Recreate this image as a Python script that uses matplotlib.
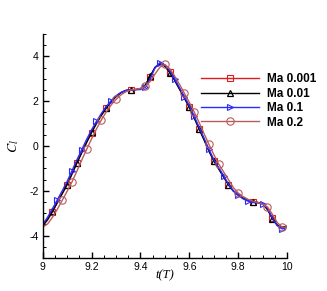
import matplotlib
matplotlib.use('Agg')
from matplotlib import pyplot as plt
from matplotlib.ticker import MultipleLocator

plt.rcParams['font.family'] = 'Liberation Sans'
plt.rcParams['mathtext.fontset'] = 'stix'

# lift coefficient over one period
t = [9.00, 9.02, 9.04, 9.06, 9.08, 9.10, 9.12, 9.14, 9.16, 9.18,
     9.20, 9.22, 9.24, 9.26, 9.28, 9.30, 9.32, 9.34, 9.36, 9.38,
     9.40, 9.42, 9.44, 9.46, 9.48, 9.50, 9.52, 9.54, 9.56, 9.58,
     9.60, 9.62, 9.64, 9.66, 9.68, 9.70, 9.72, 9.74, 9.76, 9.78,
     9.80, 9.82, 9.84, 9.86, 9.88, 9.90, 9.92, 9.94, 9.96, 9.98, 10.0]

cl_001 = [-3.58, -3.30, -2.93, -2.53, -2.13, -1.73, -1.25, -0.76, -0.30, 0.16,
          0.60, 1.00, 1.36, 1.69, 1.97, 2.20, 2.37, 2.47, 2.51, 2.52,
          2.55, 2.70, 3.10, 3.50, 3.68, 3.58, 3.30, 2.95, 2.55, 2.15,
          1.75, 1.27, 0.78, 0.30, -0.20, -0.65, -1.00, -1.36, -1.72, -2.00,
          -2.18, -2.32, -2.42, -2.48, -2.52, -2.58, -2.82, -3.22, -3.52, -3.64, -3.60]

cl_01 = [-3.56, -3.28, -2.92, -2.52, -2.12, -1.72, -1.24, -0.75, -0.29, 0.17,
         0.61, 1.01, 1.37, 1.70, 1.98, 2.21, 2.38, 2.48, 2.51, 2.52,
         2.56, 2.72, 3.12, 3.52, 3.66, 3.56, 3.28, 2.93, 2.53, 2.13,
         1.73, 1.25, 0.76, 0.28, -0.22, -0.66, -1.02, -1.38, -1.73, -2.01,
         -2.19, -2.33, -2.43, -2.48, -2.52, -2.58, -2.84, -3.25, -3.54, -3.62, -3.58]

cl_1 = [-3.50, -3.18, -2.80, -2.40, -2.00, -1.58, -1.10, -0.62, -0.16, 0.30,
        0.72, 1.10, 1.45, 1.76, 2.02, 2.24, 2.39, 2.48, 2.51, 2.51,
        2.52, 2.62, 3.00, 3.50, 3.72, 3.62, 3.36, 3.00, 2.60, 2.20,
        1.80, 1.33, 0.84, 0.36, -0.14, -0.60, -0.96, -1.32, -1.70, -2.00,
        -2.20, -2.36, -2.46, -2.52, -2.54, -2.58, -2.78, -3.22, -3.56, -3.70, -3.64]

cl_2 = [-3.62, -3.48, -3.18, -2.82, -2.42, -2.02, -1.60, -1.12, -0.62, -0.15,
        0.32, 0.76, 1.16, 1.52, 1.83, 2.08, 2.28, 2.42, 2.50, 2.53,
        2.57, 2.66, 2.88, 3.22, 3.52, 3.64, 3.45, 3.12, 2.75, 2.35,
        1.95, 1.52, 1.05, 0.56, 0.08, -0.38, -0.80, -1.15, -1.50, -1.85,
        -2.10, -2.26, -2.38, -2.46, -2.52, -2.60, -2.72, -3.05, -3.42, -3.62, -3.63]

marks_a = [2, 5, 7, 10, 13, 18, 22, 26, 30, 32, 35, 38, 43, 47]
marks_b = [3, 6, 8, 11, 14, 21, 24, 27, 29, 31, 34, 37, 40, 42, 45, 49]
marks_c = [4, 6, 9, 12, 15, 21, 25, 29, 31, 34, 36, 40, 46, 49]

fig = plt.figure(figsize=(3.27, 2.91), dpi=100)
ax = fig.add_axes([0.1306, 0.1134, 0.7472, 0.7698])

ax.plot(t, cl_001, color='#e01c1c', lw=1.0, marker='s', ms=4.2, mfc='none',
        mew=0.8, markevery=marks_a, label='Ma 0.001')
ax.plot(t, cl_01, color='black', lw=1.0, marker='^', ms=4.2, mfc='none',
        mew=0.9, markevery=marks_a, label='Ma 0.01')
ax.plot(t, cl_1, color='#2a2aff', lw=1.0, marker='>', ms=4.2, mfc='none',
        mew=0.8, markevery=marks_b, label='Ma 0.1')
ax.plot(t, cl_2, color='#b85c5c', lw=1.0, marker='o', ms=5.3, mfc='none',
        mew=0.8, markevery=marks_c, label='Ma 0.2')

ax.set_xlim(9, 10)
ax.set_ylim(-5, 5)
ax.xaxis.set_minor_locator(MultipleLocator(0.05))
ax.yaxis.set_minor_locator(MultipleLocator(0.5))
ax.set_xticks([9, 9.2, 9.4, 9.6, 9.8, 10])
ax.set_xticklabels(['9', '9.2', '9.4', '9.6', '9.8', '10'])
ax.set_yticks([-4, -2, 0, 2, 4])
ax.set_yticklabels(['-4', '-2', '0', '2', '4'])

ax.spines['top'].set_visible(False)
ax.spines['right'].set_visible(False)
ax.spines['left'].set_linewidth(1.0)
ax.spines['bottom'].set_linewidth(1.0)
ax.tick_params(which='major', direction='in', length=4, width=1.0, labelsize=7.5, pad=3)
ax.tick_params(which='minor', direction='in', length=2, width=0.7)

ax.set_xlabel('t(T)', family='Liberation Serif', style='italic', fontsize=9, labelpad=-2)
ax.set_ylabel('$C_l$', fontsize=10, labelpad=6)

ax.legend(loc='upper left', bbox_to_anchor=(0.625, 0.85), frameon=False,
          handlelength=4.9, handletextpad=0.7, labelspacing=0.2, borderpad=0,
          prop={'family': 'Liberation Sans', 'weight': 'bold', 'size': 8.5})

fig.savefig('out.png', dpi=100)
